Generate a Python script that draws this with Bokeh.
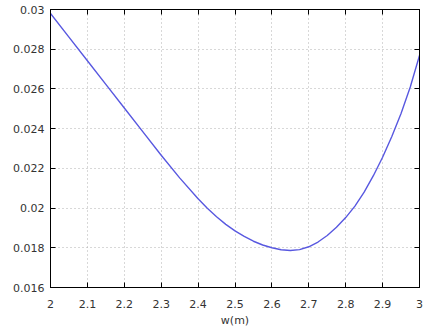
from bokeh.plotting import figure
from bokeh.models import LinearAxis, FixedTicker, Range1d
from bokeh.embed import file_html
from bokeh.resources import INLINE

w_m = [2.00, 2.05, 2.10, 2.15, 2.20, 2.25, 2.30, 2.35, 2.40, 2.425, 2.45, 2.475,
       2.50, 2.525, 2.55, 2.575, 2.60, 2.625, 2.65, 2.675, 2.70, 2.725, 2.75,
       2.775, 2.80, 2.825, 2.85, 2.875, 2.90, 2.925, 2.95, 2.975, 3.00]
values = [0.02980, 0.02861, 0.02742, 0.02623, 0.02504, 0.02385, 0.02266, 0.02152,
          0.02047, 0.01999, 0.01956, 0.01918, 0.01885, 0.01857, 0.01833, 0.01814,
          0.01800, 0.01790, 0.01786, 0.01791, 0.01805, 0.01829, 0.01862, 0.01903,
          0.01952, 0.02010, 0.02080, 0.02163, 0.02256, 0.02360, 0.02476, 0.02610,
          0.02768]

x_ticks = [2.0, 2.1, 2.2, 2.3, 2.4, 2.5, 2.6, 2.7, 2.8, 2.9, 3.0]
x_labels = ["2", "2.1", "2.2", "2.3", "2.4", "2.5", "2.6", "2.7", "2.8", "2.9", "3"]
y_ticks = [0.016, 0.018, 0.020, 0.022, 0.024, 0.026, 0.028, 0.030]
y_labels = ["0.016", "0.018", "0.02", "0.022", "0.024", "0.026", "0.028", "0.03"]

FONT = "DejaVu Sans"

p = figure(width=429, height=330, output_backend="svg", toolbar_location=None,
           x_range=Range1d(2, 3), y_range=Range1d(0.016, 0.030),
           min_border_left=50, min_border_right=10, min_border_top=9,
           min_border_bottom=43, x_axis_label="w(m)")
p.background_fill_color = "white"
p.border_fill_color = "white"
p.outline_line_color = "#000000"
p.outline_line_width = 1

p.line(w_m, values, line_color="#5858e0", line_width=1.4)

def style(ax, ticks, labels, show_labels=True):
    ax.ticker = FixedTicker(ticks=ticks)
    if show_labels:
        ax.major_label_overrides = {t: l for t, l in zip(ticks, labels)}
    else:
        ax.major_label_overrides = {t: "" for t in ticks}
    ax.major_tick_in = 5
    ax.major_tick_out = 0
    ax.minor_tick_in = 0
    ax.minor_tick_out = 0
    ax.major_tick_line_color = "#000000"
    ax.axis_line_color = "#000000"
    ax.major_label_text_font = FONT
    ax.major_label_text_font_size = "11px"
    ax.major_label_text_color = "#333333"

style(p.xaxis[0], x_ticks, x_labels)
style(p.yaxis[0], y_ticks, y_labels)
p.xaxis[0].major_label_standoff = 12
p.yaxis[0].major_label_standoff = 6
p.xaxis[0].axis_label_text_font = FONT
p.xaxis[0].axis_label_text_font_size = "11px"
p.xaxis[0].axis_label_text_font_style = "normal"
p.xaxis[0].axis_label_text_color = "#333333"
p.xaxis[0].axis_label_standoff = 3

top = LinearAxis()
style(top, x_ticks, x_labels, show_labels=False)
top.major_label_standoff = 0
p.add_layout(top, "above")
right = LinearAxis()
style(right, y_ticks, y_labels, show_labels=False)
right.major_label_standoff = 0
p.add_layout(right, "right")

for g in (p.xgrid[0], p.ygrid[0]):
    g.grid_line_color = "#b0b0b0"
    g.grid_line_dash = "1 3"
    g.grid_line_width = 1
p.xgrid[0].ticker = FixedTicker(ticks=x_ticks)
p.ygrid[0].ticker = FixedTicker(ticks=y_ticks)

open("out.html", "w").write(file_html(p, INLINE))
